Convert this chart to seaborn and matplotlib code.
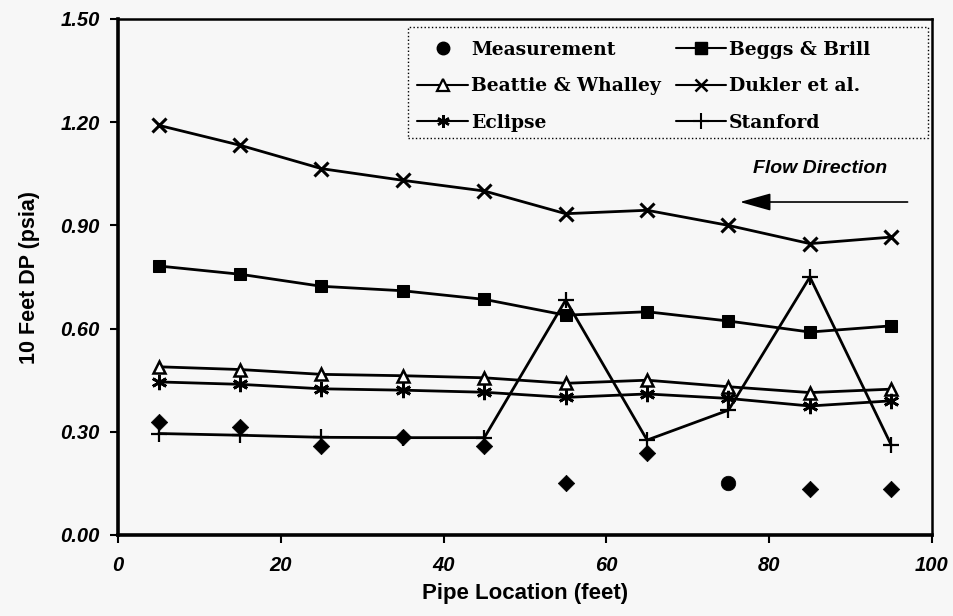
import matplotlib
matplotlib.use("Agg")
import matplotlib.pyplot as plt
from matplotlib.lines import Line2D
from matplotlib.patches import Rectangle
import seaborn as sns
import numpy as np

# ---- data ----
location = [5, 15, 25, 35, 45, 55, 65, 75, 85, 95]
measurement = [0.329, 0.315, 0.259, 0.284, 0.259, 0.150, 0.237, 0.150, 0.133, 0.133]
beggs_brill = [0.782, 0.758, 0.723, 0.710, 0.685, 0.639, 0.649, 0.622, 0.590, 0.608]
beattie_whalley = [0.489, 0.481, 0.467, 0.463, 0.457, 0.441, 0.450, 0.431, 0.414, 0.424]
dukler = [1.191, 1.133, 1.065, 1.031, 1.000, 0.934, 0.944, 0.900, 0.847, 0.866]
eclipse = [0.445, 0.438, 0.425, 0.421, 0.415, 0.400, 0.410, 0.397, 0.375, 0.390]
stanford = [0.295, 0.290, 0.284, 0.283, 0.283, 0.683, 0.276, 0.363, 0.750, 0.261]
x_ticks = [0, 20, 40, 60, 80, 100]
y_ticks = [0.00, 0.30, 0.60, 0.90, 1.20, 1.50]

sns.set_theme(style="white")
plt.rcParams["font.family"] = ["Liberation Sans", "DejaVu Sans"]
plt.rcParams.update({"text.color": "black", "axes.labelcolor": "black",
                     "xtick.color": "black", "ytick.color": "black"})

fig = plt.figure(figsize=(9.54, 6.16), dpi=100, facecolor="#f7f7f7")
ax = fig.add_axes([118/954, 1-535/616, (932-118)/954, (535-19)/616])
ax.set_facecolor("#f7f7f7")

lw = 2.0
sns.lineplot(x=location, y=dukler, ax=ax, color="black", lw=lw, marker="x",
             markersize=10, markeredgewidth=2.2, markeredgecolor="black")
sns.lineplot(x=location, y=beggs_brill, ax=ax, color="black", lw=lw, marker="s",
             markersize=9, markerfacecolor="black", markeredgecolor="black")
sns.lineplot(x=location, y=beattie_whalley, ax=ax, color="black", lw=lw, marker="^",
             markersize=9, markerfacecolor="white", markeredgecolor="black",
             markeredgewidth=1.8)
sns.lineplot(x=location, y=eclipse, ax=ax, color="black", lw=lw, marker=(6, 2, 0),
             markersize=11, markeredgewidth=2.0, markeredgecolor="black")
sns.lineplot(x=location, y=stanford, ax=ax, color="black", lw=lw, marker="+",
             markersize=12, markeredgewidth=1.6, markeredgecolor="black")

meas_x = np.array(location)
meas_y = np.array(measurement)
is_circle = meas_x == 75
sns.scatterplot(x=meas_x[~is_circle], y=meas_y[~is_circle], ax=ax, marker="D",
                s=70, color="black", edgecolor="black", linewidth=0.5)
sns.scatterplot(x=meas_x[is_circle], y=meas_y[is_circle], ax=ax, marker="o",
                s=110, color="black", edgecolor="black", linewidth=0.5)

ax.set_xlim(0, 100)
ax.set_ylim(0, 1.5)
ax.set_xticks(x_ticks)
ax.set_yticks(y_ticks)
ax.set_xticklabels([str(v) for v in x_ticks])
ax.set_yticklabels([f"{v:.2f}" for v in y_ticks])
for lab in ax.get_xticklabels() + ax.get_yticklabels():
    lab.set_fontsize(14.5)
    lab.set_fontweight("bold")
    lab.set_fontstyle("italic")
    lab.set_color("black")
ax.tick_params(axis="both", direction="out", length=6, width=1.5, color="black",
               left=True, bottom=True, labelcolor="black")
ax.tick_params(axis="y", pad=7)
ax.tick_params(axis="x", pad=9)

for side in ["left", "bottom"]:
    ax.spines[side].set_linewidth(2.6)
    ax.spines[side].set_color("black")
for side in ["top", "right"]:
    ax.spines[side].set_linewidth(1.8)
    ax.spines[side].set_color("black")

ax.set_xlabel("Pipe Location (feet)", fontsize=16, fontweight="bold", labelpad=6,
              color="black")
ax.set_ylabel("10 Feet DP (psia)", fontsize=15.5, fontweight="bold", labelpad=15,
              color="black")

# Flow direction annotation
ax.annotate("", xy=(76.4, 0.968), xytext=(97.0, 0.968),
            arrowprops=dict(arrowstyle="-|>,head_length=1.6,head_width=0.45",
                            color="black", lw=1.2, shrinkA=0, shrinkB=0))
ax.text(86.2, 1.066, "Flow Direction", ha="center", va="center", fontsize=14,
        fontweight="bold", fontstyle="italic", color="black")

# legend box (drawn separately so it can be wider than its content)
box_x0, box_x1 = (408-118)/814, (928-118)/814
box_y0, box_y1 = (535-138)/516, (535-27)/516
ax.add_patch(Rectangle((box_x0, box_y0), box_x1-box_x0, box_y1-box_y0,
                       transform=ax.transAxes, facecolor="#f7f7f7",
                       edgecolor="black", lw=1.0, ls=":", zorder=4))

handles = [
    Line2D([], [], ls="none", marker="o", color="black", markersize=9),
    Line2D([], [], color="black", lw=1.5, marker="^", markersize=8,
           markerfacecolor="white", markeredgewidth=1.6),
    Line2D([], [], color="black", lw=1.5, marker=(6, 2, 0), markersize=9,
           markeredgewidth=1.8),
    Line2D([], [], color="black", lw=1.5, marker="s", markersize=8),
    Line2D([], [], color="black", lw=1.5, marker="x", markersize=9,
           markeredgewidth=1.8),
    Line2D([], [], color="black", lw=1.5, marker="+", markersize=11,
           markeredgewidth=1.5),
]
labels = ["Measurement", "Beattie & Whalley", "Eclipse",
          "Beggs & Brill", "Dukler et al.", "Stanford"]
leg = ax.legend(handles, labels, ncol=2, loc="upper left",
                bbox_to_anchor=(box_x0 + 0.0, box_y1 - 0.008), borderaxespad=0,
                frameon=False, handlelength=2.7,
                handletextpad=0.15, columnspacing=0.8, labelspacing=1.0,
                borderpad=0.5,
                prop=dict(family="DejaVu Serif", weight="bold", size=13.5))
leg.set_zorder(5)
for t in leg.get_texts():
    t.set_color("black")

fig.savefig("out.png", dpi=100, facecolor=fig.get_facecolor())
